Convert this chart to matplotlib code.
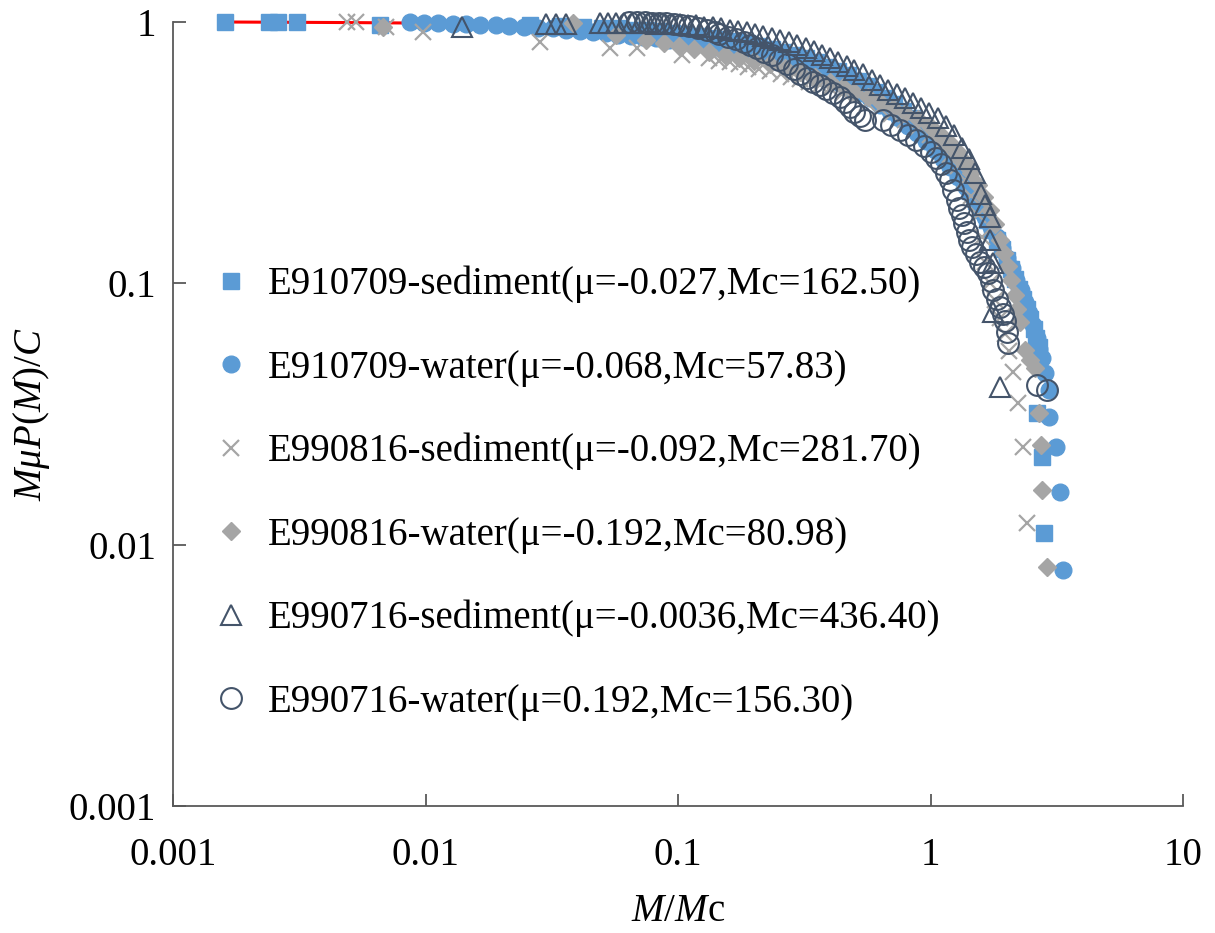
import numpy as np
import matplotlib
matplotlib.use('Agg')
import matplotlib.pyplot as plt

plt.rcParams['font.family'] = ['Liberation Serif', 'DejaVu Serif']
plt.rcParams['mathtext.fontset'] = 'custom'
plt.rcParams['mathtext.rm'] = 'Liberation Serif'
plt.rcParams['mathtext.it'] = 'Liberation Serif:italic'

# (M/Mc, MuP(M)/C)
sed_910709 = [(0.0016, 1.0), (0.0024, 1.0), (0.0026, 1.0), (0.0031, 1.0), (0.0066, 0.975),
              (0.026, 0.975), (0.034, 0.965), (0.042, 0.96), (0.05, 0.95), (0.058, 0.945),
              (0.066, 0.935), (0.075, 0.93), (0.085, 0.92), (0.095, 0.91), (0.107, 0.9),
              (0.12, 0.885), (0.135, 0.87), (0.15, 0.86), (0.168, 0.845), (0.188, 0.83),
              (0.21, 0.81), (0.235, 0.79), (0.26, 0.77), (0.29, 0.75), (0.32, 0.725),
              (0.355, 0.70), (0.39, 0.675), (0.43, 0.65), (0.47, 0.625), (0.515, 0.595),
              (0.56, 0.57), (0.61, 0.54), (0.665, 0.51), (0.72, 0.485), (0.78, 0.455),
              (0.845, 0.43), (0.91, 0.40), (0.98, 0.37), (1.05, 0.345), (1.12, 0.318),
              (1.2, 0.292), (1.28, 0.268), (1.36, 0.246), (1.44, 0.226), (1.52, 0.207),
              (1.6, 0.19), (1.68, 0.175), (1.76, 0.16), (1.84, 0.147), (1.92, 0.135),
              (2.0, 0.123), (2.08, 0.113), (2.16, 0.104), (2.24, 0.095), (2.32, 0.087),
              (2.4, 0.08), (2.48, 0.073), (2.56, 0.067), (2.62, 0.062), (2.68, 0.057),
              (2.64, 0.032), (2.76, 0.0217), (2.81, 0.0111)]

wat_910709 = [(0.0087, 1.0), (0.0099, 0.995), (0.0112, 0.99), (0.0128, 0.985), (0.0145, 0.98),
              (0.0165, 0.975), (0.019, 0.97), (0.0215, 0.965), (0.0245, 0.96), (0.028, 0.95),
              (0.032, 0.945), (0.036, 0.935), (0.041, 0.925), (0.046, 0.915), (0.052, 0.905),
              (0.058, 0.895), (0.065, 0.885), (0.073, 0.875), (0.082, 0.865), (0.092, 0.855),
              (0.103, 0.845), (0.115, 0.83), (0.128, 0.82), (0.143, 0.805), (0.16, 0.79),
              (0.178, 0.775), (0.198, 0.76), (0.22, 0.74), (0.245, 0.72), (0.27, 0.70),
              (0.30, 0.68), (0.33, 0.66), (0.365, 0.635), (0.4, 0.61), (0.44, 0.585),
              (0.48, 0.56), (0.525, 0.535), (0.575, 0.51), (0.63, 0.48), (0.69, 0.455),
              (0.75, 0.43), (0.815, 0.40), (0.885, 0.375), (0.96, 0.35), (1.04, 0.325),
              (1.12, 0.30), (1.2, 0.278), (1.29, 0.255), (1.38, 0.234), (1.47, 0.214),
              (1.56, 0.196), (1.65, 0.179), (1.74, 0.164), (1.83, 0.15), (1.92, 0.137),
              (2.01, 0.125), (2.1, 0.114), (2.19, 0.103), (2.28, 0.094), (2.37, 0.085),
              (2.46, 0.077), (2.55, 0.069), (2.63, 0.062), (2.7, 0.056), (2.76, 0.052),
              (2.84, 0.0454), (2.94, 0.039), (2.94, 0.0308), (3.14, 0.0236), (3.25, 0.0159),
              (3.34, 0.008)]

sed_990816 = [(0.0049, 1.0), (0.0053, 1.0), (0.0070, 0.96), (0.0098, 0.915), (0.0285, 0.838),
              (0.054, 0.795), (0.0685, 0.795), (0.104, 0.748), (0.133, 0.725), (0.146, 0.712),
              (0.16, 0.70), (0.175, 0.69), (0.19, 0.675), (0.21, 0.66), (0.231, 0.649),
              (0.255, 0.63), (0.28, 0.615), (0.303, 0.605), (0.33, 0.59), (0.365, 0.575),
              (0.40, 0.559), (0.45, 0.535), (0.50, 0.512), (0.56, 0.49), (0.63, 0.469),
              (0.70, 0.445), (0.79, 0.422), (0.89, 0.395), (0.993, 0.37), (1.09, 0.34),
              (1.19, 0.31), (1.28, 0.28), (1.37, 0.249), (1.45, 0.215), (1.54, 0.183),
              (1.60, 0.15), (1.64, 0.121), (1.72, 0.10), (1.80, 0.086), (1.88, 0.074),
              (1.97, 0.064), (2.05, 0.055), (2.12, 0.0458), (2.22, 0.0348), (2.32, 0.0236),
              (2.41, 0.0121)]

wat_990816 = [(0.0068, 0.957), (0.0385, 0.99), (0.057, 0.892), (0.075, 0.853), (0.088, 0.83),
              (0.101, 0.809), (0.116, 0.788), (0.133, 0.768), (0.153, 0.748), (0.175, 0.728),
              (0.2, 0.71), (0.231, 0.69), (0.265, 0.667), (0.303, 0.644), (0.35, 0.617),
              (0.40, 0.589), (0.45, 0.565), (0.50, 0.54), (0.565, 0.517), (0.63, 0.494),
              (0.71, 0.47), (0.79, 0.448), (0.89, 0.424), (0.993, 0.40), (1.09, 0.372),
              (1.19, 0.344), (1.28, 0.317), (1.37, 0.291), (1.45, 0.264), (1.54, 0.238),
              (1.63, 0.214), (1.72, 0.191), (1.80, 0.168), (1.88, 0.147), (1.95, 0.131),
              (2.02, 0.117), (2.09, 0.103), (2.16, 0.09), (2.21, 0.08), (2.26, 0.071),
              (2.37, 0.0556), (2.48, 0.051), (2.59, 0.0474), (2.69, 0.032), (2.74, 0.024),
              (2.76, 0.0162), (2.89, 0.0082)]

sed_990716 = [(0.014, 0.96), (0.030, 0.985), (0.033, 0.985), (0.036, 0.985), (0.049, 0.99),
              (0.053, 0.99), (0.057, 0.99), (0.061, 0.99), (0.066, 0.99), (0.071, 0.99),
              (0.076, 0.99), (0.082, 0.985), (0.088, 0.985), (0.095, 0.985), (0.102, 0.98),
              (0.110, 0.975), (0.118, 0.97), (0.127, 0.96), (0.137, 0.955), (0.148, 0.945),
              (0.160, 0.935), (0.173, 0.925), (0.187, 0.915), (0.202, 0.90), (0.218, 0.885),
              (0.235, 0.87), (0.254, 0.85), (0.274, 0.835), (0.296, 0.815), (0.32, 0.795),
              (0.345, 0.775), (0.372, 0.75), (0.40, 0.73), (0.43, 0.705), (0.465, 0.68),
              (0.50, 0.655), (0.54, 0.63), (0.585, 0.60), (0.63, 0.575), (0.68, 0.55),
              (0.735, 0.53), (0.79, 0.51), (0.85, 0.49), (0.92, 0.47), (0.99, 0.45),
              (1.07, 0.43), (1.15, 0.40), (1.24, 0.37), (1.33, 0.33), (1.42, 0.30),
              (1.50, 0.265), (1.58, 0.22), (1.65, 0.20), (1.72, 0.18), (1.72, 0.147),
              (1.77, 0.12), (1.77, 0.078), (1.88, 0.040)]

wat_990716 = [(0.064, 1.0), (0.069, 1.0), (0.074, 1.0), (0.079, 0.995), (0.084, 0.995),
              (0.09, 0.99), (0.096, 0.985), (0.103, 0.975), (0.111, 0.965), (0.12, 0.95),
              (0.13, 0.935), (0.14, 0.915), (0.146, 0.90), (0.158, 0.88), (0.17, 0.86),
              (0.182, 0.835), (0.192, 0.817), (0.205, 0.795), (0.22, 0.77), (0.236, 0.745),
              (0.252, 0.715), (0.27, 0.69), (0.287, 0.66), (0.303, 0.632), (0.323, 0.61),
              (0.343, 0.59), (0.364, 0.574), (0.385, 0.555), (0.41, 0.535), (0.437, 0.516),
              (0.46, 0.495), (0.48, 0.472), (0.50, 0.453), (0.525, 0.437), (0.549, 0.422),
              (0.647, 0.422), (0.70, 0.405), (0.755, 0.386), (0.815, 0.37), (0.876, 0.354),
              (0.94, 0.335), (1.0, 0.318), (1.05, 0.302), (1.1, 0.285), (1.15, 0.265),
              (1.19, 0.249), (1.23, 0.228), (1.27, 0.208), (1.30, 0.195), (1.33, 0.183),
              (1.36, 0.17), (1.39, 0.157), (1.42, 0.147), (1.46, 0.138), (1.51, 0.13),
              (1.57, 0.121), (1.63, 0.115), (1.69, 0.110), (1.73, 0.102), (1.77, 0.094),
              (1.83, 0.087), (1.88, 0.081), (1.93, 0.076), (1.97, 0.072), (2.0, 0.065),
              (2.02, 0.059), (2.64, 0.041), (2.89, 0.039)]

# fitted curve (red)
fit_x = [0.0016, 0.005, 0.01, 0.02, 0.05, 0.1, 0.2, 0.3, 0.5, 0.7, 1.0, 1.3, 1.6, 1.9, 2.2, 2.5, 2.8]
fit_y = [1.0, 0.995, 0.99, 0.98, 0.95, 0.905, 0.82, 0.74, 0.61, 0.50, 0.37, 0.27, 0.20, 0.15, 0.11, 0.082, 0.061]

labels = ['E910709-sediment(\u03bc=-0.027,Mc=162.50)',
          'E910709-water(\u03bc=-0.068,Mc=57.83)',
          'E990816-sediment(\u03bc=-0.092,Mc=281.70)',
          'E990816-water(\u03bc=-0.192,Mc=80.98)',
          'E990716-sediment(\u03bc=-0.0036,Mc=436.40)',
          'E990716-water(\u03bc=0.192,Mc=156.30)']

blue = '#5B9BD5'
gray = '#A5A5A5'
navy = '#44546A'

fig = plt.figure(figsize=(12.15, 9.33), dpi=100)
ax = fig.add_axes([173 / 1215, 127 / 933, 1010 / 1215, 784 / 933])

ax.plot(fit_x, fit_y, color='red', lw=2.2, zorder=1, clip_on=False)

styles = [
    (sed_910709, dict(marker='s', ms=11, color=blue, mec=blue)),
    (wat_910709, dict(marker='o', ms=12, color=blue, mec=blue)),
    (sed_990816, dict(marker='x', ms=12, color=gray, mew=1.6)),
    (wat_990816, dict(marker='D', ms=9.5, color=gray, mec=gray)),
    (sed_990716, dict(marker='^', ms=15, color=navy, mfc='none', mew=1.5)),
    (wat_990716, dict(marker='o', ms=15, color=navy, mfc='none', mew=1.5)),
]
for (pts, st), lab in zip(styles, labels):
    pts = np.array(pts)
    ax.plot(pts[:, 0], pts[:, 1], ls='none', label=lab, clip_on=False, zorder=3, **st)

ax.set_xscale('log')
ax.set_yscale('log')
ax.set_xlim(0.001, 10)
ax.set_ylim(0.001, 1)
ax.set_xticks([0.001, 0.01, 0.1, 1, 10])
ax.set_xticklabels(['0.001', '0.01', '0.1', '1', '10'])
ax.set_yticks([0.001, 0.01, 0.1, 1])
ax.set_yticklabels(['0.001', '0.01', '0.1', '1'])
ax.minorticks_off()

for s in ['top', 'right']:
    ax.spines[s].set_visible(False)
for s in ['left', 'bottom']:
    ax.spines[s].set_color('#595959')
    ax.spines[s].set_linewidth(1.3)
ax.tick_params(direction='in', length=9, width=1.3, color='#595959', labelsize=28)
ax.tick_params(axis='x', pad=22)
ax.tick_params(axis='y', pad=12)

ax.set_xlabel(r'$M/M\mathrm{c}$', fontsize=28, labelpad=14)
ax.set_ylabel(r'$M\mu P(M)/C$', fontsize=28, labelpad=12)

ax.legend(loc='center left', bbox_to_anchor=(0.0386, 0.399), frameon=False, fontsize=28,
          handlelength=1.0, handletextpad=0.45, labelspacing=1.19, borderpad=0,
          borderaxespad=0, numpoints=1)

fig.savefig('out.png', dpi=100)
